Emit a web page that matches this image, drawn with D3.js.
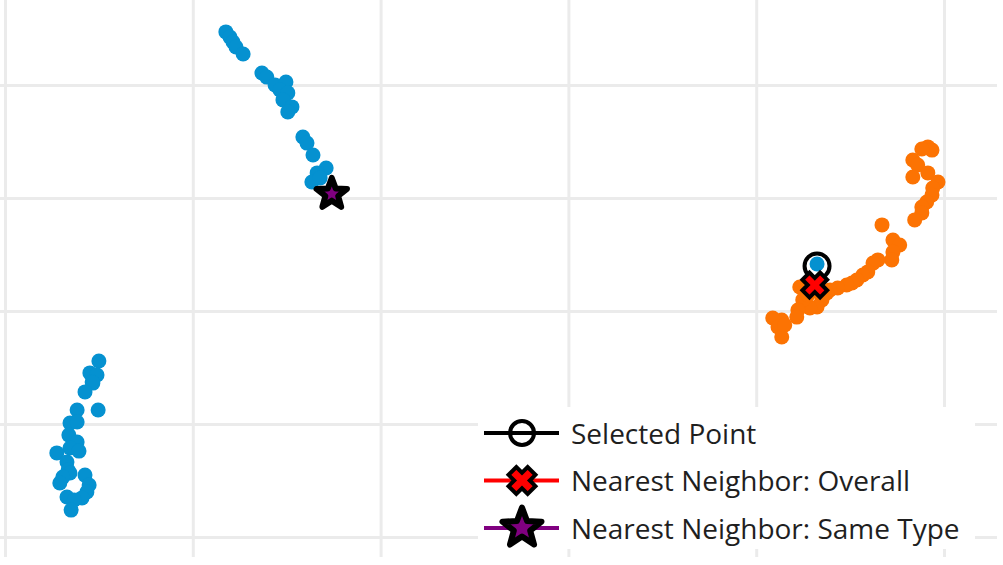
<!DOCTYPE html>
<html>
<head>
<meta charset="utf-8">
<script src="https://cdn.jsdelivr.net/npm/d3@7"></script>
<style>
  html, body { margin: 0; padding: 0; background: #fff; }
  svg { display: block; }
  .legend text { font-family: "Open Sans", sans-serif; font-size: 28px; fill: #1f1f1f; }
</style>
</head>
<body>
<div id="chart"></div>
<script>
const width = 1003;
const height = 565;

// embedding coordinates, blue group (two clusters) and orange group
const blueX = [-9.12, -9.01, -8.93, -8.85, -8.66, -8.16, -8.03, -7.81, -7.52, -7.68, -7.47, -7.60, -7.36, -7.47,
    -7.07, -6.96, -6.80, -6.45, -6.69, -6.83, -6.61, -6.30,
    -12.50, -12.74, -12.55, -12.68, -12.66, -12.87, -12.52, -13.08, -13.27, -13.08, -13.30, -13.08, -13.27,
    -13.03, -13.62, -13.35, -13.32, -13.27, -13.46, -13.54, -12.87, -12.76, -12.82, -12.95, -13.35, -13.16, -13.24];
const blueY = [12.35, 12.12, 11.90, 11.68, 11.37, 10.53, 10.35, 10.00, 10.13, 9.78, 9.65, 9.34, 9.03, 8.81,
    7.70, 7.43, 6.90, 6.33, 6.11, 5.71, 5.89, 5.18,
    -2.21, -2.74, -2.83, -3.14, -3.19, -3.58, -4.38, -4.38, -4.96, -4.91, -5.49, -5.80, -6.06,
    -6.20, -6.28, -6.68, -7.04, -7.17, -7.35, -7.61, -7.26, -7.70, -8.01, -8.27, -8.23, -8.36, -8.81];

const orangeX = [9.57, 9.68, 9.41, 9.17, 9.30, 9.17, 9.57, 9.84, 9.70, 9.68, 9.54, 9.41, 9.41, 9.22,
    8.35, 8.64, 8.82, 8.64, 8.61, 8.24, 8.11, 7.97, 7.84, 7.68, 7.55, 7.41, 7.17, 6.96, 6.88, 6.75,
    6.62, 6.43, 6.16, 6.24, 6.11, 6.08, 5.68, 5.44, 5.58, 5.68, 5.76, 6.48, 6.70, 6.38];
const orangeY = [7.26, 7.12, 7.17, 6.68, 6.46, 5.93, 6.11, 5.71, 5.44, 5.13, 4.82, 4.60, 4.34, 4.03,
    3.81, 3.14, 2.92, 2.61, 2.26, 2.26, 2.12, 1.73, 1.59, 1.37, 1.24, 1.15, 1.02, 0.93, 0.80, 0.49,
    0.18, 0.13, 1.06, 0.49, 0.04, -0.27, -0.40, -0.31, -0.71, -1.15, -0.62, 1.28, 0.84, 0.71];

// highlighted points
const selectedPoint = [6.62, 2.08];
const nearestOverall = [6.56, 1.15];
const nearestSameType = [-6.30, 5.18];

const xTicks = [-15, -10, -5, 0, 5, 10];
const yTicks = [-10, -5, 0, 5, 10];

const legendLabels = ["Selected Point", "Nearest Neighbor: Overall", "Nearest Neighbor: Same Type"];

const blue = "#0591d0";
const orange = "#fc7303";
const purple = "#800080";

const plotW = 997;
const plotH = 557;

const x = d3.scaleLinear().domain([-15, 10]).range([5, 944]);
const y = d3.scaleLinear().domain([-10, 10]).range([537, 85]);

const svg = d3.select("#chart")
    .append("svg")
    .attr("width", width)
    .attr("height", height);

svg.append("clipPath").attr("id", "plotclip")
    .append("rect").attr("width", plotW).attr("height", plotH);

// grid lines
const grid = svg.append("g").attr("clip-path", "url(#plotclip)");
grid.append("g")
    .attr("transform", `translate(0,${plotH})`)
    .call(d3.axisBottom(x).tickValues(xTicks).tickSize(-plotH).tickFormat(""))
    .call(g => g.select(".domain").remove())
    .call(g => g.selectAll("line").attr("stroke", "#ebebeb").attr("stroke-width", 3));
grid.append("g")
    .call(d3.axisLeft(y).tickValues(yTicks).tickSize(-plotW).tickFormat(""))
    .call(g => g.select(".domain").remove())
    .call(g => g.selectAll("line").attr("stroke", "#ebebeb").attr("stroke-width", 3));

const pts = svg.append("g").attr("clip-path", "url(#plotclip)");

pts.selectAll("circle.orange")
    .data(d3.zip(orangeX, orangeY))
    .join("circle")
    .attr("class", "orange")
    .attr("cx", d => x(d[0]))
    .attr("cy", d => y(d[1]))
    .attr("r", 7.5)
    .attr("fill", orange);

pts.selectAll("circle.blue")
    .data(d3.zip(blueX, blueY))
    .join("circle")
    .attr("class", "blue")
    .attr("cx", d => x(d[0]))
    .attr("cy", d => y(d[1]))
    .attr("r", 7.5)
    .attr("fill", blue);

// marker shapes
function crossPath(r, w) {
    const p = [[w, r], [w, w], [r, w], [r, -w], [w, -w], [w, -r], [-w, -r], [-w, -w], [-r, -w], [-r, w], [-w, w], [-w, r]];
    const c = Math.SQRT1_2;
    return "M" + p.map(([a, b]) => [(a - b) * c, (a + b) * c].map(v => v.toFixed(2)).join(",")).join("L") + "Z";
}
function starPath(R, ratio) {
    const p = [];
    for (let i = 0; i < 10; i++) {
        const rr = i % 2 ? R * ratio : R;
        const a = -Math.PI / 2 + i * Math.PI / 5;
        p.push([rr * Math.cos(a), rr * Math.sin(a)]);
    }
    return "M" + p.map(d => d.map(v => v.toFixed(2)).join(",")).join("L") + "Z";
}

// selected point: ring, then the point itself on top
pts.append("circle")
    .attr("cx", x(selectedPoint[0]))
    .attr("cy", y(selectedPoint[1]) + 2)
    .attr("r", 12.5)
    .attr("fill", "#fff")
    .attr("stroke", "#000")
    .attr("stroke-width", 4);
pts.append("circle")
    .attr("cx", x(selectedPoint[0]))
    .attr("cy", y(selectedPoint[1]))
    .attr("r", 7.5)
    .attr("fill", blue);

pts.append("path")
    .attr("transform", `translate(${x(nearestOverall[0])},${y(nearestOverall[1])})`)
    .attr("d", crossPath(12.5, 5))
    .attr("fill", "red")
    .attr("stroke", "#000")
    .attr("stroke-width", 4)
    .attr("stroke-linejoin", "miter");

pts.append("path")
    .attr("transform", `translate(${x(nearestSameType[0])},${y(nearestSameType[1])})`)
    .attr("d", starPath(16, 0.42))
    .attr("fill", purple)
    .attr("stroke", "#000")
    .attr("stroke-width", 6)
    .attr("stroke-linejoin", "round");

// legend
const legend = svg.append("g").attr("class", "legend");
legend.append("rect")
    .attr("x", 478).attr("y", 407)
    .attr("width", 497).attr("height", 142)
    .attr("fill", "#fff");

const rowY = d3.scalePoint().domain(legendLabels).range([433, 528]);
const lineColors = ["#000", "red", purple];

const rows = legend.selectAll("g.row")
    .data(legendLabels)
    .join("g")
    .attr("class", "row")
    .attr("transform", d => `translate(0,${rowY(d)})`);

rows.append("line")
    .attr("x1", 484).attr("x2", 559)
    .attr("stroke", (d, i) => lineColors[i])
    .attr("stroke-width", 4);

rows.append("text")
    .attr("x", 571)
    .attr("dy", "0.38em")
    .text(d => d);

const mx = 522;
legend.append("circle")
    .attr("cx", mx).attr("cy", rowY(legendLabels[0]))
    .attr("r", 12)
    .attr("fill", "none")
    .attr("stroke", "#000")
    .attr("stroke-width", 4);
legend.append("path")
    .attr("transform", `translate(${mx},${rowY(legendLabels[1])})`)
    .attr("d", crossPath(13.5, 5.5))
    .attr("fill", "red")
    .attr("stroke", "#000")
    .attr("stroke-width", 4);
legend.append("path")
    .attr("transform", `translate(${mx},${rowY(legendLabels[2])})`)
    .attr("d", starPath(20.5, 0.42))
    .attr("fill", purple)
    .attr("stroke", "#000")
    .attr("stroke-width", 6)
    .attr("stroke-linejoin", "round");
</script>
</body>
</html>
